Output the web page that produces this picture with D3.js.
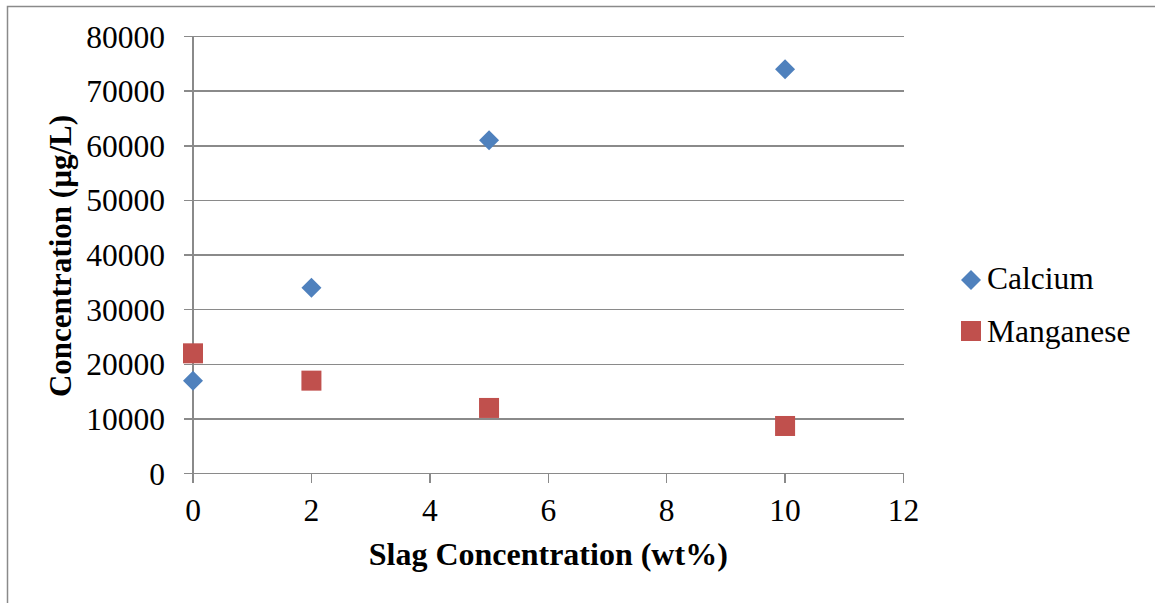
<!DOCTYPE html>
<head>
<meta charset="utf-8">
<script src="https://d3js.org/d3.v7.min.js"></script>
<style>
  body { margin: 0; background: #fff; }
  text { font-family: "Liberation Serif", "Times New Roman", serif; fill: #000; }
  text.tickLabel { font-size: 31.5px; }
  text.axisTitle { font-size: 32px; font-weight: 700; }
  text.yTitle { font-size: 31px; }
  text.legendText { font-size: 31.5px; }
  .grid line { stroke: #8a8a8a; stroke-width: 1.5; shape-rendering: crispEdges; }
</style>
</head>
<body>
<script>
const width = 1155;
const height = 603;

// data
const xValues       = [0, 2, 5, 10];
const calcium       = [17000, 34000, 61000, 74000];
const manganese     = [22000, 17000, 12000, 8700];
const xTicks        = [0, 2, 4, 6, 8, 10, 12];
const yTicks        = [0, 10000, 20000, 30000, 40000, 50000, 60000, 70000, 80000];
const seriesNames   = ["Calcium", "Manganese"];
const seriesColours = ["#4F81BD", "#C0504D"];

const margin = {left: 193, right: 251.5, top: 36.5, bottom: 129.5};

const svg = d3.select("body").append("svg")
   .attr("width", width)
   .attr("height", height);

// outer chart frame (runs off right and bottom)
svg.append("rect")
   .attr("x", 7.5).attr("y", 6.5)
   .attr("width", 1160).attr("height", 620)
   .attr("fill", "none")
   .attr("stroke", "#8a8a8a")
   .attr("stroke-width", 1.5);

const x = d3.scaleLinear()
   .domain([0, 12])
   .range([margin.left, width - margin.right]);

const y = d3.scaleLinear()
   .domain([0, 80000])
   .range([height - margin.bottom, margin.top]);

const grid = svg.append("g").attr("class", "grid");

// horizontal gridlines, with little tick stubs to the left
grid.selectAll("line.h")
   .data(yTicks)
   .enter()
   .append("line")
   .attr("class", "h")
   .attr("x1", x(0) - 9)
   .attr("x2", x(12))
   .attr("y1", d => y(d))
   .attr("y2", d => y(d));

// y axis line
grid.append("line")
   .attr("x1", x(0)).attr("x2", x(0))
   .attr("y1", y(80000)).attr("y2", y(0));

// x ticks
grid.selectAll("line.xt")
   .data(xTicks)
   .enter()
   .append("line")
   .attr("class", "xt")
   .attr("x1", d => x(d)).attr("x2", d => x(d))
   .attr("y1", y(0)).attr("y2", y(0) + 9);

svg.selectAll("text.yLab")
   .data(yTicks)
   .enter()
   .append("text")
   .attr("class", "tickLabel yLab")
   .attr("x", x(0) - 28)
   .attr("y", d => y(d) + 11)
   .style("text-anchor", "end")
   .text(d => d);

svg.selectAll("text.xLab")
   .data(xTicks)
   .enter()
   .append("text")
   .attr("class", "tickLabel xLab")
   .attr("x", d => x(d))
   .attr("y", y(0) + 47)
   .style("text-anchor", "middle")
   .text(d => d);

svg.append("text")
   .attr("class", "axisTitle")
   .attr("x", (x(0) + x(12)) / 2)
   .attr("y", 565)
   .style("text-anchor", "middle")
   .text("Slag Concentration (wt%)");

svg.append("text")
   .attr("class", "axisTitle yTitle")
   .attr("transform", `translate(71, ${(y(0) + y(80000)) / 2 + 1}) rotate(-90)`)
   .style("text-anchor", "middle")
   .text("Concentration (µg/L)");

const diamond = d3.symbol().type(d3.symbolSquare).size(200);

// Calcium diamonds
svg.selectAll("path.ca")
   .data(xValues.map((v, i) => ({x: v, y: calcium[i]})))
   .enter()
   .append("path")
   .attr("class", "ca")
   .attr("d", diamond)
   .attr("transform", d => `translate(${x(d.x)}, ${y(d.y)}) rotate(45)`)
   .attr("fill", seriesColours[0]);

// Manganese squares
const sq = 20;
svg.selectAll("rect.mn")
   .data(xValues.map((v, i) => ({x: v, y: manganese[i]})))
   .enter()
   .append("rect")
   .attr("class", "mn")
   .attr("x", d => x(d.x) - sq / 2)
   .attr("y", d => y(d.y) - sq / 2)
   .attr("width", sq).attr("height", sq)
   .attr("fill", seriesColours[1]);

// legend
const legend = svg.append("g");
const legendY = [280, 331];

legend.append("path")
   .attr("d", diamond)
   .attr("transform", `translate(971, ${legendY[0]}) rotate(45)`)
   .attr("fill", seriesColours[0]);

legend.append("rect")
   .attr("x", 961).attr("y", legendY[1] - 10)
   .attr("width", 20).attr("height", 20)
   .attr("fill", seriesColours[1]);

legend.selectAll("text")
   .data(seriesNames)
   .enter()
   .append("text")
   .attr("class", "legendText")
   .attr("x", 987)
   .attr("y", (d, i) => [289, 342][i])
   .text(d => d);
</script>
</body>
